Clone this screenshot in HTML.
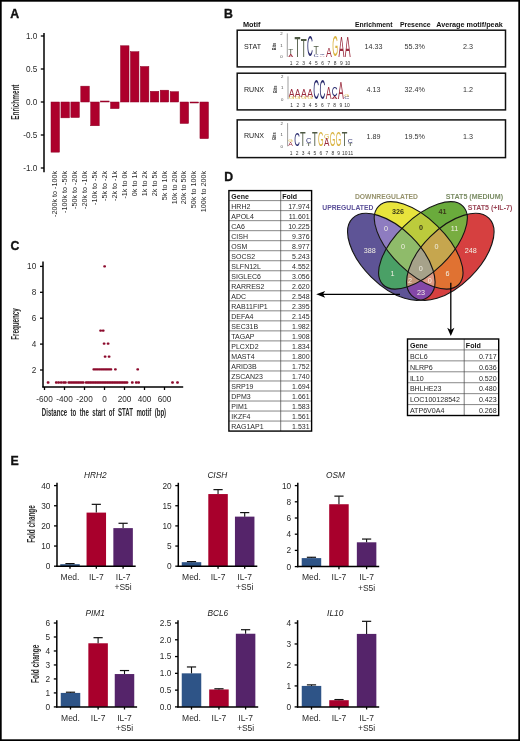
<!DOCTYPE html>
<html><head><meta charset="utf-8"><style>
html,body{margin:0;padding:0;background:#fff;}
svg{display:block;font-family:"Liberation Sans",sans-serif;filter:blur(0.35px);}
</style></head><body>
<svg width="520" height="741" viewBox="0 0 520 741">
<rect x="0" y="0" width="520" height="741" fill="#fff"/>
<text x="10.30" y="18.00" font-size="12.3" text-anchor="start" fill="#111" font-weight="bold" stroke="#111" stroke-width="0.35">A</text>
<line x1="44.00" y1="33.00" x2="44.00" y2="172.20" stroke="#000" stroke-width="1.5"/>
<line x1="40.80" y1="36.00" x2="44.00" y2="36.00" stroke="#000" stroke-width="1.3"/>
<text x="37.30" y="38.60" font-size="8.2" text-anchor="end" fill="#2a2a2a" >1.0</text>
<line x1="40.80" y1="69.00" x2="44.00" y2="69.00" stroke="#000" stroke-width="1.3"/>
<text x="37.30" y="71.60" font-size="8.2" text-anchor="end" fill="#2a2a2a" >0.5</text>
<line x1="40.80" y1="102.00" x2="44.00" y2="102.00" stroke="#000" stroke-width="1.3"/>
<text x="37.30" y="104.60" font-size="8.2" text-anchor="end" fill="#2a2a2a" >0.0</text>
<line x1="40.80" y1="135.00" x2="44.00" y2="135.00" stroke="#000" stroke-width="1.3"/>
<text x="37.30" y="137.60" font-size="8.2" text-anchor="end" fill="#2a2a2a" >-0.5</text>
<line x1="40.80" y1="168.00" x2="44.00" y2="168.00" stroke="#000" stroke-width="1.3"/>
<text x="37.30" y="170.60" font-size="8.2" text-anchor="end" fill="#2a2a2a" >-1.0</text>
<text x="18.90" y="102.10" font-size="10" text-anchor="middle" fill="#2a2a2a" textLength="35.2" lengthAdjust="spacingAndGlyphs" font-weight="bold" transform="rotate(-90 18.90 102.10)">Enrichment</text>
<rect x="51.00" y="102.00" width="8.50" height="50.16" fill="#ad002c" stroke="#8c0024" stroke-width="0.5"/>
<text x="0" y="0" font-size="7.2" text-anchor="end" fill="#2a2a2a" transform="translate(57.35 171.0) rotate(-90)">-200k to -100k</text>
<rect x="60.93" y="102.00" width="8.50" height="15.84" fill="#ad002c" stroke="#8c0024" stroke-width="0.5"/>
<text x="0" y="0" font-size="7.2" text-anchor="end" fill="#2a2a2a" transform="translate(67.28 171.0) rotate(-90)">-100k to -50k</text>
<rect x="70.86" y="102.00" width="8.50" height="15.51" fill="#ad002c" stroke="#8c0024" stroke-width="0.5"/>
<text x="0" y="0" font-size="7.2" text-anchor="end" fill="#2a2a2a" transform="translate(77.21 171.0) rotate(-90)">-50k to -20k</text>
<rect x="80.79" y="86.16" width="8.50" height="15.84" fill="#ad002c" stroke="#8c0024" stroke-width="0.5"/>
<text x="0" y="0" font-size="7.2" text-anchor="end" fill="#2a2a2a" transform="translate(87.14 171.0) rotate(-90)">-20k to -10k</text>
<rect x="90.72" y="102.00" width="8.50" height="23.76" fill="#ad002c" stroke="#8c0024" stroke-width="0.5"/>
<text x="0" y="0" font-size="7.2" text-anchor="end" fill="#2a2a2a" transform="translate(97.07 171.0) rotate(-90)">-10k to -5k</text>
<rect x="100.65" y="101.00" width="8.50" height="1.00" fill="#ad002c" stroke="#8c0024" stroke-width="0.5"/>
<text x="0" y="0" font-size="7.2" text-anchor="end" fill="#2a2a2a" transform="translate(107.00 171.0) rotate(-90)">-5k to -2k</text>
<rect x="110.58" y="102.00" width="8.50" height="6.60" fill="#ad002c" stroke="#8c0024" stroke-width="0.5"/>
<text x="0" y="0" font-size="7.2" text-anchor="end" fill="#2a2a2a" transform="translate(116.93 171.0) rotate(-90)">-2k to -1k</text>
<rect x="120.51" y="45.77" width="8.50" height="56.23" fill="#ad002c" stroke="#8c0024" stroke-width="0.5"/>
<text x="0" y="0" font-size="7.2" text-anchor="end" fill="#2a2a2a" transform="translate(126.86 171.0) rotate(-90)">-1k to 0k</text>
<rect x="130.44" y="51.71" width="8.50" height="50.29" fill="#ad002c" stroke="#8c0024" stroke-width="0.5"/>
<text x="0" y="0" font-size="7.2" text-anchor="end" fill="#2a2a2a" transform="translate(136.79 171.0) rotate(-90)">0k to 1k</text>
<rect x="140.37" y="66.49" width="8.50" height="35.51" fill="#ad002c" stroke="#8c0024" stroke-width="0.5"/>
<text x="0" y="0" font-size="7.2" text-anchor="end" fill="#2a2a2a" transform="translate(146.72 171.0) rotate(-90)">1k to 2k</text>
<rect x="150.30" y="91.31" width="8.50" height="10.69" fill="#ad002c" stroke="#8c0024" stroke-width="0.5"/>
<text x="0" y="0" font-size="7.2" text-anchor="end" fill="#2a2a2a" transform="translate(156.65 171.0) rotate(-90)">2k to 5k</text>
<rect x="160.23" y="90.19" width="8.50" height="11.81" fill="#ad002c" stroke="#8c0024" stroke-width="0.5"/>
<text x="0" y="0" font-size="7.2" text-anchor="end" fill="#2a2a2a" transform="translate(166.58 171.0) rotate(-90)">5k to 10k</text>
<rect x="170.16" y="91.70" width="8.50" height="10.30" fill="#ad002c" stroke="#8c0024" stroke-width="0.5"/>
<text x="0" y="0" font-size="7.2" text-anchor="end" fill="#2a2a2a" transform="translate(176.51 171.0) rotate(-90)">10k to 20k</text>
<rect x="180.09" y="102.00" width="8.50" height="21.45" fill="#ad002c" stroke="#8c0024" stroke-width="0.5"/>
<text x="0" y="0" font-size="7.2" text-anchor="end" fill="#2a2a2a" transform="translate(186.44 171.0) rotate(-90)">20k to 50k</text>
<rect x="190.02" y="102.00" width="8.50" height="1.00" fill="#ad002c" stroke="#8c0024" stroke-width="0.5"/>
<text x="0" y="0" font-size="7.2" text-anchor="end" fill="#2a2a2a" transform="translate(196.37 171.0) rotate(-90)">50k to 100k</text>
<rect x="199.95" y="102.00" width="8.50" height="36.63" fill="#ad002c" stroke="#8c0024" stroke-width="0.5"/>
<text x="0" y="0" font-size="7.2" text-anchor="end" fill="#2a2a2a" transform="translate(206.30 171.0) rotate(-90)">100k to 200k</text>
<text x="224.10" y="17.50" font-size="12.3" text-anchor="start" fill="#111" font-weight="bold" stroke="#111" stroke-width="0.35">B</text>
<text x="243.00" y="27.20" font-size="6.8" text-anchor="start" fill="#111" textLength="17.5" lengthAdjust="spacingAndGlyphs" font-weight="bold">Motif</text>
<text x="354.90" y="27.30" font-size="6.8" text-anchor="start" fill="#111" textLength="37.7" lengthAdjust="spacingAndGlyphs" font-weight="bold">Enrichment</text>
<text x="399.90" y="27.30" font-size="6.8" text-anchor="start" fill="#111" textLength="30.8" lengthAdjust="spacingAndGlyphs" font-weight="bold">Presence</text>
<text x="436.20" y="27.30" font-size="6.8" text-anchor="start" fill="#111" textLength="66.5" lengthAdjust="spacingAndGlyphs" font-weight="bold">Average motif/peak</text>
<rect x="237.2" y="30.2" width="268.3" height="36.70" fill="none" stroke="#111" stroke-width="1.5"/>
<text x="243.90" y="49.35" font-size="7.1" text-anchor="start" fill="#222" >STAT</text>
<text x="373.60" y="49.05" font-size="7.2" text-anchor="middle" fill="#333" >14.33</text>
<text x="414.80" y="49.05" font-size="7.2" text-anchor="middle" fill="#333" >55.3%</text>
<text x="468.00" y="49.05" font-size="7.2" text-anchor="middle" fill="#333" >2.3</text>
<rect x="237.2" y="73.2" width="268.3" height="36.70" fill="none" stroke="#111" stroke-width="1.5"/>
<text x="243.90" y="92.35" font-size="7.1" text-anchor="start" fill="#222" >RUNX</text>
<text x="373.60" y="92.05" font-size="7.2" text-anchor="middle" fill="#333" >4.13</text>
<text x="414.80" y="92.05" font-size="7.2" text-anchor="middle" fill="#333" >32.4%</text>
<text x="468.00" y="92.05" font-size="7.2" text-anchor="middle" fill="#333" >1.2</text>
<rect x="237.2" y="119.9" width="268.3" height="37.70" fill="none" stroke="#111" stroke-width="1.5"/>
<text x="243.90" y="138.35" font-size="7.1" text-anchor="start" fill="#222" >RUNX</text>
<text x="373.60" y="139.25" font-size="7.2" text-anchor="middle" fill="#333" >1.89</text>
<text x="414.80" y="139.25" font-size="7.2" text-anchor="middle" fill="#333" >19.5%</text>
<text x="468.00" y="139.25" font-size="7.2" text-anchor="middle" fill="#333" >1.3</text>
<line x1="287.30" y1="33.40" x2="287.30" y2="56.80" stroke="#777" stroke-width="0.7"/>
<text x="281.50" y="34.90" font-size="4.3" text-anchor="middle" fill="#444" >2</text>
<text x="281.50" y="46.60" font-size="4.3" text-anchor="middle" fill="#444" >1</text>
<text x="281.50" y="58.30" font-size="4.3" text-anchor="middle" fill="#444" >0</text>
<text x="0" y="0" font-size="5.8" font-weight="bold" text-anchor="middle" fill="#333" textLength="7.4" lengthAdjust="spacingAndGlyphs" transform="translate(276.00 46.50) rotate(-90)">Bits</text>
<text font-size="100" fill="#4f5a44" transform="translate(288.30 48.70) scale(0.0820 0.0710) translate(0 69)">T</text>
<text font-size="100" fill="#9a2a3c" transform="translate(288.30 53.60) scale(0.0746 0.0435) translate(0 69)">A</text>
<text font-size="100" fill="#4f5a44" transform="translate(294.57 35.90) scale(0.0967 0.3000) translate(0 69)">T</text>
<text font-size="100" fill="#4f5a44" transform="translate(300.84 38.90) scale(0.0967 0.2565) translate(0 69)">T</text>
<text font-size="100" fill="#2a2c6e" transform="translate(307.11 35.30) scale(0.0819 0.3000) translate(0 70)">C</text>
<text font-size="100" fill="#4f5a44" transform="translate(313.38 46.00) scale(0.0869 0.1087) translate(0 69)">T</text>
<text font-size="100" fill="#2a2c6e" transform="translate(313.38 53.50) scale(0.0736 0.0437) translate(0 70)">C</text>
<text font-size="100" fill="#2a2c6e" transform="translate(319.65 53.50) scale(0.0694 0.0211) translate(0 70)">C</text>
<text font-size="100" fill="#9a2a3c" transform="translate(319.65 55.00) scale(0.0746 0.0232) translate(0 69)">A</text>
<text font-size="100" fill="#9a2a3c" transform="translate(325.92 47.60) scale(0.0881 0.1304) translate(0 69)">A</text>
<text font-size="100" fill="#d9b23e" transform="translate(332.19 35.80) scale(0.0756 0.2930) translate(0 70)">G</text>
<text font-size="100" fill="#9a2a3c" transform="translate(338.46 35.80) scale(0.0881 0.3014) translate(0 69)">A</text>
<text font-size="100" fill="#9a2a3c" transform="translate(344.73 35.80) scale(0.0881 0.3014) translate(0 69)">A</text>
<text x="291.20" y="65.00" font-size="4.9" text-anchor="middle" fill="#333" >1</text>
<text x="297.47" y="65.00" font-size="4.9" text-anchor="middle" fill="#333" >2</text>
<text x="303.74" y="65.00" font-size="4.9" text-anchor="middle" fill="#333" >3</text>
<text x="310.01" y="65.00" font-size="4.9" text-anchor="middle" fill="#333" >4</text>
<text x="316.28" y="65.00" font-size="4.9" text-anchor="middle" fill="#333" >5</text>
<text x="322.55" y="65.00" font-size="4.9" text-anchor="middle" fill="#333" >6</text>
<text x="328.82" y="65.00" font-size="4.9" text-anchor="middle" fill="#333" >7</text>
<text x="335.09" y="65.00" font-size="4.9" text-anchor="middle" fill="#333" >8</text>
<text x="341.36" y="65.00" font-size="4.9" text-anchor="middle" fill="#333" >9</text>
<text x="347.63" y="65.00" font-size="4.9" text-anchor="middle" fill="#333" >10</text>
<line x1="288.00" y1="76.40" x2="288.00" y2="99.20" stroke="#777" stroke-width="0.7"/>
<text x="282.20" y="77.90" font-size="4.3" text-anchor="middle" fill="#444" >2</text>
<text x="282.20" y="89.30" font-size="4.3" text-anchor="middle" fill="#444" >1</text>
<text x="282.20" y="100.70" font-size="4.3" text-anchor="middle" fill="#444" >0</text>
<text x="0" y="0" font-size="5.8" font-weight="bold" text-anchor="middle" fill="#333" textLength="7.4" lengthAdjust="spacingAndGlyphs" transform="translate(276.70 89.20) rotate(-90)">Bits</text>
<text font-size="100" fill="#9a2a3c" transform="translate(288.70 89.50) scale(0.0866 0.1029) translate(0 69)">A</text>
<text font-size="100" fill="#d9b23e" transform="translate(288.70 96.60) scale(0.0744 0.0324) translate(0 70)">G</text>
<text font-size="100" fill="#9a2a3c" transform="translate(294.86 89.50) scale(0.0866 0.1029) translate(0 69)">A</text>
<text font-size="100" fill="#d9b23e" transform="translate(294.86 96.60) scale(0.0744 0.0324) translate(0 70)">G</text>
<text font-size="100" fill="#9a2a3c" transform="translate(301.02 89.50) scale(0.0866 0.1058) translate(0 69)">A</text>
<text font-size="100" fill="#d9b23e" transform="translate(301.02 96.80) scale(0.0744 0.0296) translate(0 70)">G</text>
<text font-size="100" fill="#9a2a3c" transform="translate(307.18 89.80) scale(0.0866 0.1043) translate(0 69)">A</text>
<text font-size="100" fill="#d9b23e" transform="translate(307.18 97.00) scale(0.0744 0.0268) translate(0 70)">G</text>
<text font-size="100" fill="#2a2c6e" transform="translate(313.34 79.40) scale(0.0806 0.2746) translate(0 70)">C</text>
<text font-size="100" fill="#2a2c6e" transform="translate(319.50 79.40) scale(0.0806 0.2746) translate(0 70)">C</text>
<text font-size="100" fill="#9a2a3c" transform="translate(325.66 87.90) scale(0.0866 0.1594) translate(0 69)">A</text>
<text font-size="100" fill="#2a2c6e" transform="translate(331.82 87.50) scale(0.0806 0.1268) translate(0 70)">C</text>
<text font-size="100" fill="#9a2a3c" transform="translate(331.82 96.50) scale(0.0866 0.0348) translate(0 69)">A</text>
<text font-size="100" fill="#9a2a3c" transform="translate(337.98 82.10) scale(0.0866 0.2435) translate(0 69)">A</text>
<text font-size="100" fill="#d9b23e" transform="translate(344.14 95.00) scale(0.0641 0.0282) translate(0 70)">G</text>
<text font-size="100" fill="#2a2c6e" transform="translate(344.14 97.00) scale(0.0694 0.0268) translate(0 70)">C</text>
<text x="291.60" y="106.80" font-size="4.9" text-anchor="middle" fill="#333" >1</text>
<text x="297.76" y="106.80" font-size="4.9" text-anchor="middle" fill="#333" >2</text>
<text x="303.92" y="106.80" font-size="4.9" text-anchor="middle" fill="#333" >3</text>
<text x="310.08" y="106.80" font-size="4.9" text-anchor="middle" fill="#333" >4</text>
<text x="316.24" y="106.80" font-size="4.9" text-anchor="middle" fill="#333" >5</text>
<text x="322.40" y="106.80" font-size="4.9" text-anchor="middle" fill="#333" >6</text>
<text x="328.56" y="106.80" font-size="4.9" text-anchor="middle" fill="#333" >7</text>
<text x="334.72" y="106.80" font-size="4.9" text-anchor="middle" fill="#333" >8</text>
<text x="340.88" y="106.80" font-size="4.9" text-anchor="middle" fill="#333" >9</text>
<text x="347.04" y="106.80" font-size="4.9" text-anchor="middle" fill="#333" >10</text>
<line x1="287.60" y1="123.10" x2="287.60" y2="146.30" stroke="#777" stroke-width="0.7"/>
<text x="281.80" y="124.60" font-size="4.3" text-anchor="middle" fill="#444" >2</text>
<text x="281.80" y="136.20" font-size="4.3" text-anchor="middle" fill="#444" >1</text>
<text x="281.80" y="147.80" font-size="4.3" text-anchor="middle" fill="#444" >0</text>
<text x="0" y="0" font-size="5.8" font-weight="bold" text-anchor="middle" fill="#333" textLength="7.4" lengthAdjust="spacingAndGlyphs" transform="translate(276.30 136.10) rotate(-90)">Bits</text>
<text font-size="100" fill="#d9b23e" transform="translate(288.20 139.00) scale(0.0590 0.0423) translate(0 70)">G</text>
<text font-size="100" fill="#9a2a3c" transform="translate(288.20 142.00) scale(0.0687 0.0580) translate(0 69)">A</text>
<text font-size="100" fill="#2a2c6e" transform="translate(294.15 132.50) scale(0.0778 0.1901) translate(0 70)">C</text>
<text font-size="100" fill="#4f5a44" transform="translate(300.10 132.50) scale(0.0918 0.1957) translate(0 69)">T</text>
<text font-size="100" fill="#2a2c6e" transform="translate(306.05 139.00) scale(0.0750 0.0634) translate(0 70)">C</text>
<text font-size="100" fill="#4f5a44" transform="translate(306.05 143.50) scale(0.0885 0.0362) translate(0 69)">T</text>
<text font-size="100" fill="#4f5a44" transform="translate(312.00 132.50) scale(0.0918 0.1957) translate(0 69)">T</text>
<text font-size="100" fill="#d9b23e" transform="translate(317.95 131.80) scale(0.0718 0.2000) translate(0 70)">G</text>
<text font-size="100" fill="#d9b23e" transform="translate(323.90 134.00) scale(0.0692 0.0704) translate(0 70)">G</text>
<text font-size="100" fill="#9a2a3c" transform="translate(323.90 139.00) scale(0.0806 0.1014) translate(0 69)">A</text>
<text font-size="100" fill="#d9b23e" transform="translate(329.85 131.80) scale(0.0718 0.2000) translate(0 70)">G</text>
<text font-size="100" fill="#d9b23e" transform="translate(335.80 131.80) scale(0.0718 0.2000) translate(0 70)">G</text>
<text font-size="100" fill="#4f5a44" transform="translate(341.75 132.50) scale(0.0918 0.1957) translate(0 69)">T</text>
<text font-size="100" fill="#2a2c6e" transform="translate(347.70 139.50) scale(0.0694 0.0493) translate(0 70)">C</text>
<text font-size="100" fill="#4f5a44" transform="translate(347.70 143.00) scale(0.0820 0.0435) translate(0 69)">T</text>
<text x="291.10" y="154.60" font-size="4.9" text-anchor="middle" fill="#333" >1</text>
<text x="297.05" y="154.60" font-size="4.9" text-anchor="middle" fill="#333" >2</text>
<text x="303.00" y="154.60" font-size="4.9" text-anchor="middle" fill="#333" >3</text>
<text x="308.95" y="154.60" font-size="4.9" text-anchor="middle" fill="#333" >4</text>
<text x="314.90" y="154.60" font-size="4.9" text-anchor="middle" fill="#333" >5</text>
<text x="320.85" y="154.60" font-size="4.9" text-anchor="middle" fill="#333" >6</text>
<text x="326.80" y="154.60" font-size="4.9" text-anchor="middle" fill="#333" >7</text>
<text x="332.75" y="154.60" font-size="4.9" text-anchor="middle" fill="#333" >8</text>
<text x="338.70" y="154.60" font-size="4.9" text-anchor="middle" fill="#333" >9</text>
<text x="344.65" y="154.60" font-size="4.9" text-anchor="middle" fill="#333" >10</text>
<text x="350.60" y="154.60" font-size="4.9" text-anchor="middle" fill="#333" >11</text>
<text x="10.50" y="250.00" font-size="12.3" text-anchor="start" fill="#111" font-weight="bold" stroke="#111" stroke-width="0.35">C</text>
<line x1="43.00" y1="261.60" x2="43.00" y2="387.60" stroke="#000" stroke-width="1.5"/>
<line x1="42.40" y1="387.00" x2="183.20" y2="387.00" stroke="#000" stroke-width="1.5"/>
<line x1="40.00" y1="370.00" x2="43.00" y2="370.00" stroke="#000" stroke-width="1.3"/>
<text x="36.20" y="372.90" font-size="8.2" text-anchor="end" fill="#2a2a2a" >2</text>
<line x1="40.00" y1="344.10" x2="43.00" y2="344.10" stroke="#000" stroke-width="1.3"/>
<text x="36.20" y="347.00" font-size="8.2" text-anchor="end" fill="#2a2a2a" >4</text>
<line x1="40.00" y1="318.20" x2="43.00" y2="318.20" stroke="#000" stroke-width="1.3"/>
<text x="36.20" y="321.10" font-size="8.2" text-anchor="end" fill="#2a2a2a" >6</text>
<line x1="40.00" y1="292.30" x2="43.00" y2="292.30" stroke="#000" stroke-width="1.3"/>
<text x="36.20" y="295.20" font-size="8.2" text-anchor="end" fill="#2a2a2a" >8</text>
<line x1="40.00" y1="266.40" x2="43.00" y2="266.40" stroke="#000" stroke-width="1.3"/>
<text x="36.20" y="269.30" font-size="8.2" text-anchor="end" fill="#2a2a2a" >10</text>
<line x1="44.50" y1="387.00" x2="44.50" y2="390.00" stroke="#000" stroke-width="1.3"/>
<text x="44.50" y="402.20" font-size="8.2" text-anchor="middle" fill="#2a2a2a" >-600</text>
<line x1="64.50" y1="387.00" x2="64.50" y2="390.00" stroke="#000" stroke-width="1.3"/>
<text x="64.50" y="402.20" font-size="8.2" text-anchor="middle" fill="#2a2a2a" >-400</text>
<line x1="84.50" y1="387.00" x2="84.50" y2="390.00" stroke="#000" stroke-width="1.3"/>
<text x="84.50" y="402.20" font-size="8.2" text-anchor="middle" fill="#2a2a2a" >-200</text>
<line x1="104.50" y1="387.00" x2="104.50" y2="390.00" stroke="#000" stroke-width="1.3"/>
<text x="104.50" y="402.20" font-size="8.2" text-anchor="middle" fill="#2a2a2a" >0</text>
<line x1="124.50" y1="387.00" x2="124.50" y2="390.00" stroke="#000" stroke-width="1.3"/>
<text x="124.50" y="402.20" font-size="8.2" text-anchor="middle" fill="#2a2a2a" >200</text>
<line x1="144.50" y1="387.00" x2="144.50" y2="390.00" stroke="#000" stroke-width="1.3"/>
<text x="144.50" y="402.20" font-size="8.2" text-anchor="middle" fill="#2a2a2a" >400</text>
<line x1="164.50" y1="387.00" x2="164.50" y2="390.00" stroke="#000" stroke-width="1.3"/>
<text x="164.50" y="402.20" font-size="8.2" text-anchor="middle" fill="#2a2a2a" >600</text>
<text x="18.70" y="324.00" font-size="10" text-anchor="middle" fill="#2a2a2a" textLength="31.7" lengthAdjust="spacingAndGlyphs" font-weight="bold" transform="rotate(-90 18.70 324.00)">Frequency</text>
<text x="0" y="0" font-size="10.6" font-weight="bold" fill="#2a2a2a" word-spacing="3.0" transform="translate(41.8 415.8) scale(0.575 1)">Distance to the start of STAT motif (bp)</text>
<rect x="103.20" y="265.25" width="2.8" height="2.3" rx="1.0" fill="#8c0a2c"/>
<rect x="99.20" y="329.45" width="2.8" height="2.3" rx="1.0" fill="#8c0a2c"/>
<rect x="101.80" y="329.45" width="2.8" height="2.3" rx="1.0" fill="#8c0a2c"/>
<rect x="102.70" y="342.55" width="2.8" height="2.3" rx="1.0" fill="#8c0a2c"/>
<rect x="106.70" y="342.55" width="2.8" height="2.3" rx="1.0" fill="#8c0a2c"/>
<rect x="103.70" y="355.55" width="2.8" height="2.3" rx="1.0" fill="#8c0a2c"/>
<rect x="107.70" y="355.55" width="2.8" height="2.3" rx="1.0" fill="#8c0a2c"/>
<rect x="92.40" y="368.15" width="2.8" height="2.3" rx="1.0" fill="#8c0a2c"/>
<rect x="94.30" y="368.15" width="2.8" height="2.3" rx="1.0" fill="#8c0a2c"/>
<rect x="96.20" y="368.15" width="2.8" height="2.3" rx="1.0" fill="#8c0a2c"/>
<rect x="98.10" y="368.15" width="2.8" height="2.3" rx="1.0" fill="#8c0a2c"/>
<rect x="100.00" y="368.15" width="2.8" height="2.3" rx="1.0" fill="#8c0a2c"/>
<rect x="101.90" y="368.15" width="2.8" height="2.3" rx="1.0" fill="#8c0a2c"/>
<rect x="103.80" y="368.15" width="2.8" height="2.3" rx="1.0" fill="#8c0a2c"/>
<rect x="105.70" y="368.15" width="2.8" height="2.3" rx="1.0" fill="#8c0a2c"/>
<rect x="107.60" y="368.15" width="2.8" height="2.3" rx="1.0" fill="#8c0a2c"/>
<rect x="109.50" y="368.15" width="2.8" height="2.3" rx="1.0" fill="#8c0a2c"/>
<rect x="114.00" y="368.15" width="2.8" height="2.3" rx="1.0" fill="#8c0a2c"/>
<rect x="136.30" y="368.15" width="2.8" height="2.3" rx="1.0" fill="#8c0a2c"/>
<rect x="46.70" y="381.35" width="2.8" height="2.3" rx="1.0" fill="#8c0a2c"/>
<rect x="54.90" y="381.35" width="2.8" height="2.3" rx="1.0" fill="#8c0a2c"/>
<rect x="57.20" y="381.35" width="2.8" height="2.3" rx="1.0" fill="#8c0a2c"/>
<rect x="59.80" y="381.35" width="2.8" height="2.3" rx="1.0" fill="#8c0a2c"/>
<rect x="62.20" y="381.35" width="2.8" height="2.3" rx="1.0" fill="#8c0a2c"/>
<rect x="64.00" y="381.35" width="2.8" height="2.3" rx="1.0" fill="#8c0a2c"/>
<rect x="67.40" y="381.35" width="2.8" height="2.3" rx="1.0" fill="#8c0a2c"/>
<rect x="69.20" y="381.35" width="2.8" height="2.3" rx="1.0" fill="#8c0a2c"/>
<rect x="71.00" y="381.35" width="2.8" height="2.3" rx="1.0" fill="#8c0a2c"/>
<rect x="72.80" y="381.35" width="2.8" height="2.3" rx="1.0" fill="#8c0a2c"/>
<rect x="74.60" y="381.35" width="2.8" height="2.3" rx="1.0" fill="#8c0a2c"/>
<rect x="76.40" y="381.35" width="2.8" height="2.3" rx="1.0" fill="#8c0a2c"/>
<rect x="78.20" y="381.35" width="2.8" height="2.3" rx="1.0" fill="#8c0a2c"/>
<rect x="80.00" y="381.35" width="2.8" height="2.3" rx="1.0" fill="#8c0a2c"/>
<rect x="81.80" y="381.35" width="2.8" height="2.3" rx="1.0" fill="#8c0a2c"/>
<rect x="84.80" y="381.35" width="2.8" height="2.3" rx="1.0" fill="#8c0a2c"/>
<rect x="86.50" y="381.35" width="2.8" height="2.3" rx="1.0" fill="#8c0a2c"/>
<rect x="88.20" y="381.35" width="2.8" height="2.3" rx="1.0" fill="#8c0a2c"/>
<rect x="89.90" y="381.35" width="2.8" height="2.3" rx="1.0" fill="#8c0a2c"/>
<rect x="91.60" y="381.35" width="2.8" height="2.3" rx="1.0" fill="#8c0a2c"/>
<rect x="93.30" y="381.35" width="2.8" height="2.3" rx="1.0" fill="#8c0a2c"/>
<rect x="95.00" y="381.35" width="2.8" height="2.3" rx="1.0" fill="#8c0a2c"/>
<rect x="96.70" y="381.35" width="2.8" height="2.3" rx="1.0" fill="#8c0a2c"/>
<rect x="98.40" y="381.35" width="2.8" height="2.3" rx="1.0" fill="#8c0a2c"/>
<rect x="100.10" y="381.35" width="2.8" height="2.3" rx="1.0" fill="#8c0a2c"/>
<rect x="101.80" y="381.35" width="2.8" height="2.3" rx="1.0" fill="#8c0a2c"/>
<rect x="103.50" y="381.35" width="2.8" height="2.3" rx="1.0" fill="#8c0a2c"/>
<rect x="105.20" y="381.35" width="2.8" height="2.3" rx="1.0" fill="#8c0a2c"/>
<rect x="106.90" y="381.35" width="2.8" height="2.3" rx="1.0" fill="#8c0a2c"/>
<rect x="108.60" y="381.35" width="2.8" height="2.3" rx="1.0" fill="#8c0a2c"/>
<rect x="110.30" y="381.35" width="2.8" height="2.3" rx="1.0" fill="#8c0a2c"/>
<rect x="112.00" y="381.35" width="2.8" height="2.3" rx="1.0" fill="#8c0a2c"/>
<rect x="113.70" y="381.35" width="2.8" height="2.3" rx="1.0" fill="#8c0a2c"/>
<rect x="115.40" y="381.35" width="2.8" height="2.3" rx="1.0" fill="#8c0a2c"/>
<rect x="117.10" y="381.35" width="2.8" height="2.3" rx="1.0" fill="#8c0a2c"/>
<rect x="118.80" y="381.35" width="2.8" height="2.3" rx="1.0" fill="#8c0a2c"/>
<rect x="120.50" y="381.35" width="2.8" height="2.3" rx="1.0" fill="#8c0a2c"/>
<rect x="122.20" y="381.35" width="2.8" height="2.3" rx="1.0" fill="#8c0a2c"/>
<rect x="123.90" y="381.35" width="2.8" height="2.3" rx="1.0" fill="#8c0a2c"/>
<rect x="125.60" y="381.35" width="2.8" height="2.3" rx="1.0" fill="#8c0a2c"/>
<rect x="130.90" y="381.35" width="2.8" height="2.3" rx="1.0" fill="#8c0a2c"/>
<rect x="134.90" y="381.35" width="2.8" height="2.3" rx="1.0" fill="#8c0a2c"/>
<rect x="137.20" y="381.35" width="2.8" height="2.3" rx="1.0" fill="#8c0a2c"/>
<rect x="171.10" y="381.35" width="2.8" height="2.3" rx="1.0" fill="#8c0a2c"/>
<rect x="176.10" y="381.35" width="2.8" height="2.3" rx="1.0" fill="#8c0a2c"/>
<text x="224.30" y="180.50" font-size="12.3" text-anchor="start" fill="#111" font-weight="bold" stroke="#111" stroke-width="0.35">D</text>
<line x1="228.90" y1="200.62" x2="311.60" y2="200.62" stroke="#555" stroke-width="0.7"/>
<line x1="228.90" y1="210.64" x2="311.60" y2="210.64" stroke="#555" stroke-width="0.7"/>
<line x1="228.90" y1="220.66" x2="311.60" y2="220.66" stroke="#555" stroke-width="0.7"/>
<line x1="228.90" y1="230.68" x2="311.60" y2="230.68" stroke="#555" stroke-width="0.7"/>
<line x1="228.90" y1="240.70" x2="311.60" y2="240.70" stroke="#555" stroke-width="0.7"/>
<line x1="228.90" y1="250.72" x2="311.60" y2="250.72" stroke="#555" stroke-width="0.7"/>
<line x1="228.90" y1="260.74" x2="311.60" y2="260.74" stroke="#555" stroke-width="0.7"/>
<line x1="228.90" y1="270.76" x2="311.60" y2="270.76" stroke="#555" stroke-width="0.7"/>
<line x1="228.90" y1="280.78" x2="311.60" y2="280.78" stroke="#555" stroke-width="0.7"/>
<line x1="228.90" y1="290.80" x2="311.60" y2="290.80" stroke="#555" stroke-width="0.7"/>
<line x1="228.90" y1="300.82" x2="311.60" y2="300.82" stroke="#555" stroke-width="0.7"/>
<line x1="228.90" y1="310.84" x2="311.60" y2="310.84" stroke="#555" stroke-width="0.7"/>
<line x1="228.90" y1="320.86" x2="311.60" y2="320.86" stroke="#555" stroke-width="0.7"/>
<line x1="228.90" y1="330.88" x2="311.60" y2="330.88" stroke="#555" stroke-width="0.7"/>
<line x1="228.90" y1="340.90" x2="311.60" y2="340.90" stroke="#555" stroke-width="0.7"/>
<line x1="228.90" y1="350.92" x2="311.60" y2="350.92" stroke="#555" stroke-width="0.7"/>
<line x1="228.90" y1="360.94" x2="311.60" y2="360.94" stroke="#555" stroke-width="0.7"/>
<line x1="228.90" y1="370.96" x2="311.60" y2="370.96" stroke="#555" stroke-width="0.7"/>
<line x1="228.90" y1="380.98" x2="311.60" y2="380.98" stroke="#555" stroke-width="0.7"/>
<line x1="228.90" y1="391.00" x2="311.60" y2="391.00" stroke="#555" stroke-width="0.7"/>
<line x1="228.90" y1="401.02" x2="311.60" y2="401.02" stroke="#555" stroke-width="0.7"/>
<line x1="228.90" y1="411.04" x2="311.60" y2="411.04" stroke="#555" stroke-width="0.7"/>
<line x1="228.90" y1="421.06" x2="311.60" y2="421.06" stroke="#555" stroke-width="0.7"/>
<line x1="280.70" y1="190.60" x2="280.70" y2="431.08" stroke="#444" stroke-width="0.7"/>
<rect x="228.90" y="190.60" width="82.70" height="240.48" fill="none" stroke="#000" stroke-width="1.4"/>
<text x="231.30" y="199.01" font-size="7.0" text-anchor="start" fill="#111" font-weight="bold" >Gene</text>
<text x="282.30" y="199.01" font-size="7.0" text-anchor="start" fill="#111" font-weight="bold" >Fold</text>
<text x="231.30" y="208.93" font-size="7.0" text-anchor="start" fill="#2a2a2a" >HRH2</text>
<text x="309.60" y="208.93" font-size="7.0" text-anchor="end" fill="#2a2a2a" >17.974</text>
<text x="231.30" y="218.95" font-size="7.0" text-anchor="start" fill="#2a2a2a" >APOL4</text>
<text x="309.60" y="218.95" font-size="7.0" text-anchor="end" fill="#2a2a2a" >11.601</text>
<text x="231.30" y="228.97" font-size="7.0" text-anchor="start" fill="#2a2a2a" >CA6</text>
<text x="309.60" y="228.97" font-size="7.0" text-anchor="end" fill="#2a2a2a" >10.225</text>
<text x="231.30" y="238.99" font-size="7.0" text-anchor="start" fill="#2a2a2a" >CISH</text>
<text x="309.60" y="238.99" font-size="7.0" text-anchor="end" fill="#2a2a2a" >9.376</text>
<text x="231.30" y="249.01" font-size="7.0" text-anchor="start" fill="#2a2a2a" >OSM</text>
<text x="309.60" y="249.01" font-size="7.0" text-anchor="end" fill="#2a2a2a" >8.977</text>
<text x="231.30" y="259.03" font-size="7.0" text-anchor="start" fill="#2a2a2a" >SOCS2</text>
<text x="309.60" y="259.03" font-size="7.0" text-anchor="end" fill="#2a2a2a" >5.243</text>
<text x="231.30" y="269.05" font-size="7.0" text-anchor="start" fill="#2a2a2a" >SLFN12L</text>
<text x="309.60" y="269.05" font-size="7.0" text-anchor="end" fill="#2a2a2a" >4.552</text>
<text x="231.30" y="279.07" font-size="7.0" text-anchor="start" fill="#2a2a2a" >SIGLEC6</text>
<text x="309.60" y="279.07" font-size="7.0" text-anchor="end" fill="#2a2a2a" >3.056</text>
<text x="231.30" y="289.09" font-size="7.0" text-anchor="start" fill="#2a2a2a" >RARRES2</text>
<text x="309.60" y="289.09" font-size="7.0" text-anchor="end" fill="#2a2a2a" >2.620</text>
<text x="231.30" y="299.11" font-size="7.0" text-anchor="start" fill="#2a2a2a" >ADC</text>
<text x="309.60" y="299.11" font-size="7.0" text-anchor="end" fill="#2a2a2a" >2.548</text>
<text x="231.30" y="309.13" font-size="7.0" text-anchor="start" fill="#2a2a2a" >RAB11FIP1</text>
<text x="309.60" y="309.13" font-size="7.0" text-anchor="end" fill="#2a2a2a" >2.395</text>
<text x="231.30" y="319.15" font-size="7.0" text-anchor="start" fill="#2a2a2a" >DEFA4</text>
<text x="309.60" y="319.15" font-size="7.0" text-anchor="end" fill="#2a2a2a" >2.145</text>
<text x="231.30" y="329.17" font-size="7.0" text-anchor="start" fill="#2a2a2a" >SEC31B</text>
<text x="309.60" y="329.17" font-size="7.0" text-anchor="end" fill="#2a2a2a" >1.982</text>
<text x="231.30" y="339.19" font-size="7.0" text-anchor="start" fill="#2a2a2a" >TAGAP</text>
<text x="309.60" y="339.19" font-size="7.0" text-anchor="end" fill="#2a2a2a" >1.908</text>
<text x="231.30" y="349.21" font-size="7.0" text-anchor="start" fill="#2a2a2a" >PLCXD2</text>
<text x="309.60" y="349.21" font-size="7.0" text-anchor="end" fill="#2a2a2a" >1.834</text>
<text x="231.30" y="359.23" font-size="7.0" text-anchor="start" fill="#2a2a2a" >MAST4</text>
<text x="309.60" y="359.23" font-size="7.0" text-anchor="end" fill="#2a2a2a" >1.800</text>
<text x="231.30" y="369.25" font-size="7.0" text-anchor="start" fill="#2a2a2a" >ARID3B</text>
<text x="309.60" y="369.25" font-size="7.0" text-anchor="end" fill="#2a2a2a" >1.752</text>
<text x="231.30" y="379.27" font-size="7.0" text-anchor="start" fill="#2a2a2a" >ZSCAN23</text>
<text x="309.60" y="379.27" font-size="7.0" text-anchor="end" fill="#2a2a2a" >1.740</text>
<text x="231.30" y="389.29" font-size="7.0" text-anchor="start" fill="#2a2a2a" >SRP19</text>
<text x="309.60" y="389.29" font-size="7.0" text-anchor="end" fill="#2a2a2a" >1.694</text>
<text x="231.30" y="399.31" font-size="7.0" text-anchor="start" fill="#2a2a2a" >DPM3</text>
<text x="309.60" y="399.31" font-size="7.0" text-anchor="end" fill="#2a2a2a" >1.661</text>
<text x="231.30" y="409.33" font-size="7.0" text-anchor="start" fill="#2a2a2a" >PIM1</text>
<text x="309.60" y="409.33" font-size="7.0" text-anchor="end" fill="#2a2a2a" >1.583</text>
<text x="231.30" y="419.35" font-size="7.0" text-anchor="start" fill="#2a2a2a" >IKZF4</text>
<text x="309.60" y="419.35" font-size="7.0" text-anchor="end" fill="#2a2a2a" >1.561</text>
<text x="231.30" y="429.37" font-size="7.0" text-anchor="start" fill="#2a2a2a" >RAG1AP1</text>
<text x="309.60" y="429.37" font-size="7.0" text-anchor="end" fill="#2a2a2a" >1.531</text>
<line x1="407.50" y1="349.93" x2="498.70" y2="349.93" stroke="#555" stroke-width="0.7"/>
<line x1="407.50" y1="360.86" x2="498.70" y2="360.86" stroke="#555" stroke-width="0.7"/>
<line x1="407.50" y1="371.79" x2="498.70" y2="371.79" stroke="#555" stroke-width="0.7"/>
<line x1="407.50" y1="382.72" x2="498.70" y2="382.72" stroke="#555" stroke-width="0.7"/>
<line x1="407.50" y1="393.65" x2="498.70" y2="393.65" stroke="#555" stroke-width="0.7"/>
<line x1="407.50" y1="404.58" x2="498.70" y2="404.58" stroke="#555" stroke-width="0.7"/>
<line x1="464.20" y1="339.00" x2="464.20" y2="415.51" stroke="#444" stroke-width="0.7"/>
<rect x="407.50" y="339.00" width="91.20" height="76.51" fill="none" stroke="#000" stroke-width="1.4"/>
<text x="409.90" y="347.86" font-size="7.1" text-anchor="start" fill="#111" font-weight="bold" >Gene</text>
<text x="465.80" y="347.86" font-size="7.1" text-anchor="start" fill="#111" font-weight="bold" >Fold</text>
<text x="409.90" y="358.69" font-size="7.1" text-anchor="start" fill="#2a2a2a" >BCL6</text>
<text x="496.70" y="358.69" font-size="7.1" text-anchor="end" fill="#2a2a2a" >0.717</text>
<text x="409.90" y="369.62" font-size="7.1" text-anchor="start" fill="#2a2a2a" >NLRP6</text>
<text x="496.70" y="369.62" font-size="7.1" text-anchor="end" fill="#2a2a2a" >0.636</text>
<text x="409.90" y="380.56" font-size="7.1" text-anchor="start" fill="#2a2a2a" >IL10</text>
<text x="496.70" y="380.56" font-size="7.1" text-anchor="end" fill="#2a2a2a" >0.520</text>
<text x="409.90" y="391.49" font-size="7.1" text-anchor="start" fill="#2a2a2a" >BHLHE23</text>
<text x="496.70" y="391.49" font-size="7.1" text-anchor="end" fill="#2a2a2a" >0.480</text>
<text x="409.90" y="402.41" font-size="7.1" text-anchor="start" fill="#2a2a2a" >LOC100128542</text>
<text x="496.70" y="402.41" font-size="7.1" text-anchor="end" fill="#2a2a2a" >0.423</text>
<text x="409.90" y="413.34" font-size="7.1" text-anchor="start" fill="#2a2a2a" >ATP6V0A4</text>
<text x="496.70" y="413.34" font-size="7.1" text-anchor="end" fill="#2a2a2a" >0.268</text>
<defs>
<clipPath id="ve0"><ellipse cx="391.31" cy="256.84" rx="54.62" ry="28.47" transform="rotate(44.73 391.31 256.84)" /></clipPath>
<clipPath id="ve1"><ellipse cx="418.63" cy="245.39" rx="56.02" ry="26.93" transform="rotate(44.27 418.63 245.39)" /></clipPath>
<clipPath id="ve2"><ellipse cx="422.97" cy="245.39" rx="56.02" ry="26.93" transform="rotate(-44.27 422.97 245.39)" /></clipPath>
<clipPath id="ve3"><ellipse cx="450.29" cy="256.84" rx="54.62" ry="28.47" transform="rotate(-44.73 450.29 256.84)" /></clipPath>
</defs>
<ellipse cx="391.31" cy="256.84" rx="54.62" ry="28.47" transform="rotate(44.73 391.31 256.84)" fill="#5e5496"/>
<ellipse cx="418.63" cy="245.39" rx="56.02" ry="26.93" transform="rotate(44.27 418.63 245.39)" fill="#e8e43c"/>
<ellipse cx="422.97" cy="245.39" rx="56.02" ry="26.93" transform="rotate(-44.27 422.97 245.39)" fill="#6aab3c"/>
<ellipse cx="450.29" cy="256.84" rx="54.62" ry="28.47" transform="rotate(-44.73 450.29 256.84)" fill="#d64040"/>
<g clip-path="url(#ve0)"><ellipse cx="418.63" cy="245.39" rx="56.02" ry="26.93" transform="rotate(44.27 418.63 245.39)" fill="#8e7cc0"/></g>
<g clip-path="url(#ve0)"><ellipse cx="422.97" cy="245.39" rx="56.02" ry="26.93" transform="rotate(-44.27 422.97 245.39)" fill="#4aa066"/></g>
<g clip-path="url(#ve0)"><ellipse cx="450.29" cy="256.84" rx="54.62" ry="28.47" transform="rotate(-44.73 450.29 256.84)" fill="#8448a8"/></g>
<g clip-path="url(#ve1)"><ellipse cx="422.97" cy="245.39" rx="56.02" ry="26.93" transform="rotate(-44.27 422.97 245.39)" fill="#bccb3c"/></g>
<g clip-path="url(#ve1)"><ellipse cx="450.29" cy="256.84" rx="54.62" ry="28.47" transform="rotate(-44.73 450.29 256.84)" fill="#e07232"/></g>
<g clip-path="url(#ve2)"><ellipse cx="450.29" cy="256.84" rx="54.62" ry="28.47" transform="rotate(-44.73 450.29 256.84)" fill="#78ad40"/></g>
<g clip-path="url(#ve1)"><g clip-path="url(#ve0)"><ellipse cx="422.97" cy="245.39" rx="56.02" ry="26.93" transform="rotate(-44.27 422.97 245.39)" fill="#8fbb6a"/></g></g>
<g clip-path="url(#ve1)"><g clip-path="url(#ve0)"><ellipse cx="450.29" cy="256.84" rx="54.62" ry="28.47" transform="rotate(-44.73 450.29 256.84)" fill="#de9a86"/></g></g>
<g clip-path="url(#ve2)"><g clip-path="url(#ve0)"><ellipse cx="450.29" cy="256.84" rx="54.62" ry="28.47" transform="rotate(-44.73 450.29 256.84)" fill="#c09478"/></g></g>
<g clip-path="url(#ve2)"><g clip-path="url(#ve1)"><ellipse cx="450.29" cy="256.84" rx="54.62" ry="28.47" transform="rotate(-44.73 450.29 256.84)" fill="#c6a64e"/></g></g>
<g clip-path="url(#ve2)"><g clip-path="url(#ve1)"><g clip-path="url(#ve0)"><ellipse cx="450.29" cy="256.84" rx="54.62" ry="28.47" transform="rotate(-44.73 450.29 256.84)" fill="#a6a28a"/></g></g></g>
<ellipse cx="391.31" cy="256.84" rx="54.62" ry="28.47" transform="rotate(44.73 391.31 256.84)" fill="none" stroke="#151515" stroke-width="1.1"/>
<ellipse cx="418.63" cy="245.39" rx="56.02" ry="26.93" transform="rotate(44.27 418.63 245.39)" fill="none" stroke="#151515" stroke-width="1.1"/>
<ellipse cx="422.97" cy="245.39" rx="56.02" ry="26.93" transform="rotate(-44.27 422.97 245.39)" fill="none" stroke="#151515" stroke-width="1.1"/>
<ellipse cx="450.29" cy="256.84" rx="54.62" ry="28.47" transform="rotate(-44.73 450.29 256.84)" fill="none" stroke="#151515" stroke-width="1.1"/>
<text x="398.00" y="213.90" font-size="7.2" text-anchor="middle" fill="#3a3a1a" font-weight="bold" >326</text>
<text x="442.50" y="213.90" font-size="7.2" text-anchor="middle" fill="#3a3a1a" font-weight="bold" >41</text>
<text x="386.00" y="231.30" font-size="7.2" text-anchor="middle" fill="#f2f0e4" >0</text>
<text x="421.00" y="230.10" font-size="7.2" text-anchor="middle" fill="#3a3a1a" font-weight="bold" >0</text>
<text x="454.60" y="231.30" font-size="7.2" text-anchor="middle" fill="#f2f0e4" >11</text>
<text x="369.80" y="253.10" font-size="7.2" text-anchor="middle" fill="#f2f0e4" >388</text>
<text x="402.90" y="249.10" font-size="7.2" text-anchor="middle" fill="#f2f0e4" >0</text>
<text x="436.40" y="249.10" font-size="7.2" text-anchor="middle" fill="#f2f0e4" >0</text>
<text x="470.70" y="253.10" font-size="7.2" text-anchor="middle" fill="#f2f0e4" >248</text>
<text x="420.80" y="270.70" font-size="7.2" text-anchor="middle" fill="#f2f0e4" >0</text>
<text x="392.50" y="276.00" font-size="7.2" text-anchor="middle" fill="#f2f0e4" >1</text>
<text x="447.60" y="275.50" font-size="7.2" text-anchor="middle" fill="#f2f0e4" >6</text>
<text x="410.00" y="282.50" font-size="7.2" text-anchor="middle" fill="#f2f0e4" >2</text>
<text x="429.70" y="282.50" font-size="7.2" text-anchor="middle" fill="#f2f0e4" >0</text>
<text x="420.90" y="294.70" font-size="7.2" text-anchor="middle" fill="#f2f0e4" >23</text>
<text x="354.90" y="198.50" font-size="6.8" text-anchor="start" fill="#96926c" textLength="63.1" lengthAdjust="spacingAndGlyphs" font-weight="bold">DOWNREGULATED</text>
<text x="322.30" y="209.60" font-size="6.8" text-anchor="start" fill="#5a4f98" textLength="51" lengthAdjust="spacingAndGlyphs" font-weight="bold">UPREGULATED</text>
<text x="445.80" y="198.50" font-size="6.9" text-anchor="start" fill="#7a8c64" textLength="57.3" lengthAdjust="spacingAndGlyphs" font-weight="bold">STAT5 (MEDIUM)</text>
<text x="467.70" y="209.50" font-size="6.9" text-anchor="start" fill="#9a4656" textLength="44.6" lengthAdjust="spacingAndGlyphs" font-weight="bold">STAT5 (+IL-7)</text>
<line x1="322.00" y1="294.30" x2="400.00" y2="294.30" stroke="#000" stroke-width="1.3"/>
<path d="M316.2 294.3 L325.2 290.9 L323.0 294.3 L325.2 297.7 Z" fill="#000"/>
<line x1="450.80" y1="282.80" x2="450.80" y2="330.00" stroke="#000" stroke-width="1.3"/>
<path d="M450.8 336.0 L447.2 327.8 L450.8 330.0 L454.4 327.8 Z" fill="#000"/>
<text x="10.40" y="465.40" font-size="12.3" text-anchor="start" fill="#111" font-weight="bold" stroke="#111" stroke-width="0.35">E</text>
<text x="95.30" y="478.30" font-size="8.3" text-anchor="middle" fill="#222" font-style="italic" >HRH2</text>
<rect x="60.25" y="564.19" width="19.50" height="2.02" fill="#2e5487" />
<line x1="70.00" y1="563.58" x2="70.00" y2="564.19" stroke="#111" stroke-width="1.1"/>
<line x1="65.40" y1="563.58" x2="74.60" y2="563.58" stroke="#111" stroke-width="1.2"/>
<line x1="70.00" y1="566.20" x2="70.00" y2="568.80" stroke="#000" stroke-width="1.3"/>
<rect x="86.55" y="512.60" width="19.50" height="53.60" fill="#a8002c" />
<line x1="96.30" y1="504.34" x2="96.30" y2="512.60" stroke="#111" stroke-width="1.1"/>
<line x1="91.70" y1="504.34" x2="100.90" y2="504.34" stroke="#111" stroke-width="1.2"/>
<line x1="96.30" y1="566.20" x2="96.30" y2="568.80" stroke="#000" stroke-width="1.3"/>
<rect x="113.35" y="528.12" width="19.50" height="38.08" fill="#55246a" />
<line x1="123.10" y1="523.28" x2="123.10" y2="528.12" stroke="#111" stroke-width="1.1"/>
<line x1="118.50" y1="523.28" x2="127.70" y2="523.28" stroke="#111" stroke-width="1.2"/>
<line x1="123.10" y1="566.20" x2="123.10" y2="568.80" stroke="#000" stroke-width="1.3"/>
<line x1="57.00" y1="482.80" x2="57.00" y2="566.90" stroke="#000" stroke-width="1.5"/>
<line x1="56.30" y1="566.20" x2="135.70" y2="566.20" stroke="#000" stroke-width="1.5"/>
<line x1="54.00" y1="566.20" x2="57.00" y2="566.20" stroke="#000" stroke-width="1.3"/>
<text x="50.40" y="569.10" font-size="8.3" text-anchor="end" fill="#2a2a2a" >0</text>
<line x1="54.00" y1="546.05" x2="57.00" y2="546.05" stroke="#000" stroke-width="1.3"/>
<text x="50.40" y="548.95" font-size="8.3" text-anchor="end" fill="#2a2a2a" >10</text>
<line x1="54.00" y1="525.90" x2="57.00" y2="525.90" stroke="#000" stroke-width="1.3"/>
<text x="50.40" y="528.80" font-size="8.3" text-anchor="end" fill="#2a2a2a" >20</text>
<line x1="54.00" y1="505.75" x2="57.00" y2="505.75" stroke="#000" stroke-width="1.3"/>
<text x="50.40" y="508.65" font-size="8.3" text-anchor="end" fill="#2a2a2a" >30</text>
<line x1="54.00" y1="485.60" x2="57.00" y2="485.60" stroke="#000" stroke-width="1.3"/>
<text x="50.40" y="488.50" font-size="8.3" text-anchor="end" fill="#2a2a2a" >40</text>
<text x="70.00" y="579.80" font-size="8.5" text-anchor="middle" fill="#2a2a2a" >Med.</text>
<text x="96.30" y="579.80" font-size="8.5" text-anchor="middle" fill="#2a2a2a" >IL-7</text>
<text x="123.10" y="579.80" font-size="8.5" text-anchor="middle" fill="#2a2a2a" >IL-7</text>
<text x="123.10" y="590.40" font-size="8.5" text-anchor="middle" fill="#2a2a2a" >+S5i</text>
<text x="217.30" y="478.30" font-size="8.3" text-anchor="middle" fill="#222" font-style="italic" >CISH</text>
<rect x="181.75" y="562.17" width="19.50" height="4.03" fill="#2e5487" />
<line x1="191.50" y1="561.57" x2="191.50" y2="562.17" stroke="#111" stroke-width="1.1"/>
<line x1="186.90" y1="561.57" x2="196.10" y2="561.57" stroke="#111" stroke-width="1.2"/>
<line x1="191.50" y1="566.20" x2="191.50" y2="568.80" stroke="#000" stroke-width="1.3"/>
<rect x="208.30" y="494.06" width="19.50" height="72.14" fill="#a8002c" />
<line x1="218.05" y1="489.63" x2="218.05" y2="494.06" stroke="#111" stroke-width="1.1"/>
<line x1="213.45" y1="489.63" x2="222.65" y2="489.63" stroke="#111" stroke-width="1.2"/>
<line x1="218.05" y1="566.20" x2="218.05" y2="568.80" stroke="#000" stroke-width="1.3"/>
<rect x="234.95" y="516.63" width="19.50" height="49.57" fill="#55246a" />
<line x1="244.70" y1="512.60" x2="244.70" y2="516.63" stroke="#111" stroke-width="1.1"/>
<line x1="240.10" y1="512.60" x2="249.30" y2="512.60" stroke="#111" stroke-width="1.2"/>
<line x1="244.70" y1="566.20" x2="244.70" y2="568.80" stroke="#000" stroke-width="1.3"/>
<line x1="178.30" y1="482.80" x2="178.30" y2="566.90" stroke="#000" stroke-width="1.5"/>
<line x1="177.60" y1="566.20" x2="257.30" y2="566.20" stroke="#000" stroke-width="1.5"/>
<line x1="175.30" y1="566.20" x2="178.30" y2="566.20" stroke="#000" stroke-width="1.3"/>
<text x="171.70" y="569.10" font-size="8.3" text-anchor="end" fill="#2a2a2a" >0</text>
<line x1="175.30" y1="546.05" x2="178.30" y2="546.05" stroke="#000" stroke-width="1.3"/>
<text x="171.70" y="548.95" font-size="8.3" text-anchor="end" fill="#2a2a2a" >5</text>
<line x1="175.30" y1="525.90" x2="178.30" y2="525.90" stroke="#000" stroke-width="1.3"/>
<text x="171.70" y="528.80" font-size="8.3" text-anchor="end" fill="#2a2a2a" >10</text>
<line x1="175.30" y1="505.75" x2="178.30" y2="505.75" stroke="#000" stroke-width="1.3"/>
<text x="171.70" y="508.65" font-size="8.3" text-anchor="end" fill="#2a2a2a" >15</text>
<line x1="175.30" y1="485.60" x2="178.30" y2="485.60" stroke="#000" stroke-width="1.3"/>
<text x="171.70" y="488.50" font-size="8.3" text-anchor="end" fill="#2a2a2a" >20</text>
<text x="191.50" y="579.80" font-size="8.5" text-anchor="middle" fill="#2a2a2a" >Med.</text>
<text x="218.05" y="579.80" font-size="8.5" text-anchor="middle" fill="#2a2a2a" >IL-7</text>
<text x="244.70" y="579.80" font-size="8.5" text-anchor="middle" fill="#2a2a2a" >IL-7</text>
<text x="244.70" y="590.40" font-size="8.5" text-anchor="middle" fill="#2a2a2a" >+S5i</text>
<text x="335.40" y="478.30" font-size="8.3" text-anchor="middle" fill="#222" font-style="italic" >OSM</text>
<rect x="301.70" y="558.10" width="19.50" height="8.51" fill="#2e5487" />
<line x1="311.45" y1="557.28" x2="311.45" y2="558.10" stroke="#111" stroke-width="1.1"/>
<line x1="306.85" y1="557.28" x2="316.05" y2="557.28" stroke="#111" stroke-width="1.2"/>
<line x1="311.45" y1="566.60" x2="311.45" y2="569.20" stroke="#000" stroke-width="1.3"/>
<rect x="329.20" y="504.23" width="19.50" height="62.37" fill="#a8002c" />
<line x1="338.95" y1="496.13" x2="338.95" y2="504.23" stroke="#111" stroke-width="1.1"/>
<line x1="334.35" y1="496.13" x2="343.55" y2="496.13" stroke="#111" stroke-width="1.2"/>
<line x1="338.95" y1="566.60" x2="338.95" y2="569.20" stroke="#000" stroke-width="1.3"/>
<rect x="356.85" y="542.30" width="19.50" height="24.30" fill="#55246a" />
<line x1="366.60" y1="539.06" x2="366.60" y2="542.30" stroke="#111" stroke-width="1.1"/>
<line x1="362.00" y1="539.06" x2="371.20" y2="539.06" stroke="#111" stroke-width="1.2"/>
<line x1="366.60" y1="566.60" x2="366.60" y2="569.20" stroke="#000" stroke-width="1.3"/>
<line x1="297.80" y1="482.80" x2="297.80" y2="567.30" stroke="#000" stroke-width="1.5"/>
<line x1="297.10" y1="566.60" x2="379.20" y2="566.60" stroke="#000" stroke-width="1.5"/>
<line x1="294.80" y1="566.60" x2="297.80" y2="566.60" stroke="#000" stroke-width="1.3"/>
<text x="291.20" y="569.50" font-size="8.3" text-anchor="end" fill="#2a2a2a" >0</text>
<line x1="294.80" y1="550.40" x2="297.80" y2="550.40" stroke="#000" stroke-width="1.3"/>
<text x="291.20" y="553.30" font-size="8.3" text-anchor="end" fill="#2a2a2a" >2</text>
<line x1="294.80" y1="534.20" x2="297.80" y2="534.20" stroke="#000" stroke-width="1.3"/>
<text x="291.20" y="537.10" font-size="8.3" text-anchor="end" fill="#2a2a2a" >4</text>
<line x1="294.80" y1="518.00" x2="297.80" y2="518.00" stroke="#000" stroke-width="1.3"/>
<text x="291.20" y="520.90" font-size="8.3" text-anchor="end" fill="#2a2a2a" >6</text>
<line x1="294.80" y1="501.80" x2="297.80" y2="501.80" stroke="#000" stroke-width="1.3"/>
<text x="291.20" y="504.70" font-size="8.3" text-anchor="end" fill="#2a2a2a" >8</text>
<line x1="294.80" y1="485.60" x2="297.80" y2="485.60" stroke="#000" stroke-width="1.3"/>
<text x="291.20" y="488.50" font-size="8.3" text-anchor="end" fill="#2a2a2a" >10</text>
<text x="311.45" y="580.20" font-size="8.5" text-anchor="middle" fill="#2a2a2a" >Med.</text>
<text x="338.95" y="580.20" font-size="8.5" text-anchor="middle" fill="#2a2a2a" >IL-7</text>
<text x="366.60" y="580.20" font-size="8.5" text-anchor="middle" fill="#2a2a2a" >IL-7</text>
<text x="366.60" y="590.80" font-size="8.5" text-anchor="middle" fill="#2a2a2a" >+S5i</text>
<text x="95.20" y="615.70" font-size="8.3" text-anchor="middle" fill="#222" font-style="italic" >PIM1</text>
<rect x="60.75" y="692.92" width="19.50" height="13.98" fill="#2e5487" />
<line x1="70.50" y1="692.22" x2="70.50" y2="692.92" stroke="#111" stroke-width="1.1"/>
<line x1="65.90" y1="692.22" x2="75.10" y2="692.22" stroke="#111" stroke-width="1.2"/>
<line x1="70.50" y1="706.90" x2="70.50" y2="709.50" stroke="#000" stroke-width="1.3"/>
<rect x="88.35" y="643.28" width="19.50" height="63.62" fill="#a8002c" />
<line x1="98.10" y1="637.68" x2="98.10" y2="643.28" stroke="#111" stroke-width="1.1"/>
<line x1="93.50" y1="637.68" x2="102.70" y2="637.68" stroke="#111" stroke-width="1.2"/>
<line x1="98.10" y1="706.90" x2="98.10" y2="709.50" stroke="#000" stroke-width="1.3"/>
<rect x="114.75" y="674.04" width="19.50" height="32.86" fill="#55246a" />
<line x1="124.50" y1="670.54" x2="124.50" y2="674.04" stroke="#111" stroke-width="1.1"/>
<line x1="119.90" y1="670.54" x2="129.10" y2="670.54" stroke="#111" stroke-width="1.2"/>
<line x1="124.50" y1="706.90" x2="124.50" y2="709.50" stroke="#000" stroke-width="1.3"/>
<line x1="56.80" y1="620.20" x2="56.80" y2="707.60" stroke="#000" stroke-width="1.5"/>
<line x1="56.10" y1="706.90" x2="137.10" y2="706.90" stroke="#000" stroke-width="1.5"/>
<line x1="53.80" y1="706.90" x2="56.80" y2="706.90" stroke="#000" stroke-width="1.3"/>
<text x="50.20" y="709.80" font-size="8.3" text-anchor="end" fill="#2a2a2a" >0</text>
<line x1="53.80" y1="692.92" x2="56.80" y2="692.92" stroke="#000" stroke-width="1.3"/>
<text x="50.20" y="695.82" font-size="8.3" text-anchor="end" fill="#2a2a2a" >1</text>
<line x1="53.80" y1="678.93" x2="56.80" y2="678.93" stroke="#000" stroke-width="1.3"/>
<text x="50.20" y="681.83" font-size="8.3" text-anchor="end" fill="#2a2a2a" >2</text>
<line x1="53.80" y1="664.95" x2="56.80" y2="664.95" stroke="#000" stroke-width="1.3"/>
<text x="50.20" y="667.85" font-size="8.3" text-anchor="end" fill="#2a2a2a" >3</text>
<line x1="53.80" y1="650.97" x2="56.80" y2="650.97" stroke="#000" stroke-width="1.3"/>
<text x="50.20" y="653.87" font-size="8.3" text-anchor="end" fill="#2a2a2a" >4</text>
<line x1="53.80" y1="636.98" x2="56.80" y2="636.98" stroke="#000" stroke-width="1.3"/>
<text x="50.20" y="639.88" font-size="8.3" text-anchor="end" fill="#2a2a2a" >5</text>
<line x1="53.80" y1="623.00" x2="56.80" y2="623.00" stroke="#000" stroke-width="1.3"/>
<text x="50.20" y="625.90" font-size="8.3" text-anchor="end" fill="#2a2a2a" >6</text>
<text x="70.50" y="720.50" font-size="8.5" text-anchor="middle" fill="#2a2a2a" >Med.</text>
<text x="98.10" y="720.50" font-size="8.5" text-anchor="middle" fill="#2a2a2a" >IL-7</text>
<text x="124.50" y="720.50" font-size="8.5" text-anchor="middle" fill="#2a2a2a" >IL-7</text>
<text x="124.50" y="731.10" font-size="8.5" text-anchor="middle" fill="#2a2a2a" >+S5i</text>
<text x="217.80" y="615.70" font-size="8.3" text-anchor="middle" fill="#222" font-style="italic" >BCL6</text>
<rect x="181.75" y="673.34" width="19.50" height="33.56" fill="#2e5487" />
<line x1="191.50" y1="666.96" x2="191.50" y2="673.34" stroke="#111" stroke-width="1.1"/>
<line x1="186.90" y1="666.96" x2="196.10" y2="666.96" stroke="#111" stroke-width="1.2"/>
<line x1="191.50" y1="706.90" x2="191.50" y2="709.50" stroke="#000" stroke-width="1.3"/>
<rect x="209.20" y="689.45" width="19.50" height="17.45" fill="#a8002c" />
<line x1="218.95" y1="688.78" x2="218.95" y2="689.45" stroke="#111" stroke-width="1.1"/>
<line x1="214.35" y1="688.78" x2="223.55" y2="688.78" stroke="#111" stroke-width="1.2"/>
<line x1="218.95" y1="706.90" x2="218.95" y2="709.50" stroke="#000" stroke-width="1.3"/>
<rect x="235.85" y="633.74" width="19.50" height="73.16" fill="#55246a" />
<line x1="245.60" y1="629.71" x2="245.60" y2="633.74" stroke="#111" stroke-width="1.1"/>
<line x1="241.00" y1="629.71" x2="250.20" y2="629.71" stroke="#111" stroke-width="1.2"/>
<line x1="245.60" y1="706.90" x2="245.60" y2="709.50" stroke="#000" stroke-width="1.3"/>
<line x1="178.00" y1="620.20" x2="178.00" y2="707.60" stroke="#000" stroke-width="1.5"/>
<line x1="177.30" y1="706.90" x2="258.20" y2="706.90" stroke="#000" stroke-width="1.5"/>
<line x1="175.00" y1="706.90" x2="178.00" y2="706.90" stroke="#000" stroke-width="1.3"/>
<text x="171.40" y="709.80" font-size="8.3" text-anchor="end" fill="#2a2a2a" >0.0</text>
<line x1="175.00" y1="690.12" x2="178.00" y2="690.12" stroke="#000" stroke-width="1.3"/>
<text x="171.40" y="693.02" font-size="8.3" text-anchor="end" fill="#2a2a2a" >0.5</text>
<line x1="175.00" y1="673.34" x2="178.00" y2="673.34" stroke="#000" stroke-width="1.3"/>
<text x="171.40" y="676.24" font-size="8.3" text-anchor="end" fill="#2a2a2a" >1.0</text>
<line x1="175.00" y1="656.56" x2="178.00" y2="656.56" stroke="#000" stroke-width="1.3"/>
<text x="171.40" y="659.46" font-size="8.3" text-anchor="end" fill="#2a2a2a" >1.5</text>
<line x1="175.00" y1="639.78" x2="178.00" y2="639.78" stroke="#000" stroke-width="1.3"/>
<text x="171.40" y="642.68" font-size="8.3" text-anchor="end" fill="#2a2a2a" >2.0</text>
<line x1="175.00" y1="623.00" x2="178.00" y2="623.00" stroke="#000" stroke-width="1.3"/>
<text x="171.40" y="625.90" font-size="8.3" text-anchor="end" fill="#2a2a2a" >2.5</text>
<text x="191.50" y="720.50" font-size="8.5" text-anchor="middle" fill="#2a2a2a" >Med.</text>
<text x="218.95" y="720.50" font-size="8.5" text-anchor="middle" fill="#2a2a2a" >IL-7</text>
<text x="245.60" y="720.50" font-size="8.5" text-anchor="middle" fill="#2a2a2a" >IL-7</text>
<text x="245.60" y="731.10" font-size="8.5" text-anchor="middle" fill="#2a2a2a" >+S5i</text>
<text x="335.20" y="615.70" font-size="8.3" text-anchor="middle" fill="#222" font-style="italic" >IL10</text>
<rect x="301.75" y="685.92" width="19.50" height="20.97" fill="#2e5487" />
<line x1="311.50" y1="684.88" x2="311.50" y2="685.92" stroke="#111" stroke-width="1.1"/>
<line x1="306.90" y1="684.88" x2="316.10" y2="684.88" stroke="#111" stroke-width="1.2"/>
<line x1="311.50" y1="706.90" x2="311.50" y2="709.50" stroke="#000" stroke-width="1.3"/>
<rect x="329.25" y="700.19" width="19.50" height="6.71" fill="#a8002c" />
<line x1="339.00" y1="699.56" x2="339.00" y2="700.19" stroke="#111" stroke-width="1.1"/>
<line x1="334.40" y1="699.56" x2="343.60" y2="699.56" stroke="#111" stroke-width="1.2"/>
<line x1="339.00" y1="706.90" x2="339.00" y2="709.50" stroke="#000" stroke-width="1.3"/>
<rect x="356.85" y="633.91" width="19.50" height="72.99" fill="#55246a" />
<line x1="366.60" y1="621.32" x2="366.60" y2="633.91" stroke="#111" stroke-width="1.1"/>
<line x1="362.00" y1="621.32" x2="371.20" y2="621.32" stroke="#111" stroke-width="1.2"/>
<line x1="366.60" y1="706.90" x2="366.60" y2="709.50" stroke="#000" stroke-width="1.3"/>
<line x1="297.60" y1="620.20" x2="297.60" y2="707.60" stroke="#000" stroke-width="1.5"/>
<line x1="296.90" y1="706.90" x2="379.20" y2="706.90" stroke="#000" stroke-width="1.5"/>
<line x1="294.60" y1="706.90" x2="297.60" y2="706.90" stroke="#000" stroke-width="1.3"/>
<text x="291.00" y="709.80" font-size="8.3" text-anchor="end" fill="#2a2a2a" >0</text>
<line x1="294.60" y1="685.92" x2="297.60" y2="685.92" stroke="#000" stroke-width="1.3"/>
<text x="291.00" y="688.82" font-size="8.3" text-anchor="end" fill="#2a2a2a" >1</text>
<line x1="294.60" y1="664.95" x2="297.60" y2="664.95" stroke="#000" stroke-width="1.3"/>
<text x="291.00" y="667.85" font-size="8.3" text-anchor="end" fill="#2a2a2a" >2</text>
<line x1="294.60" y1="643.98" x2="297.60" y2="643.98" stroke="#000" stroke-width="1.3"/>
<text x="291.00" y="646.88" font-size="8.3" text-anchor="end" fill="#2a2a2a" >3</text>
<line x1="294.60" y1="623.00" x2="297.60" y2="623.00" stroke="#000" stroke-width="1.3"/>
<text x="291.00" y="625.90" font-size="8.3" text-anchor="end" fill="#2a2a2a" >4</text>
<text x="311.50" y="720.50" font-size="8.5" text-anchor="middle" fill="#2a2a2a" >Med.</text>
<text x="339.00" y="720.50" font-size="8.5" text-anchor="middle" fill="#2a2a2a" >IL-7</text>
<text x="366.60" y="720.50" font-size="8.5" text-anchor="middle" fill="#2a2a2a" >IL-7</text>
<text x="366.60" y="731.10" font-size="8.5" text-anchor="middle" fill="#2a2a2a" >+S5i</text>
<text x="34.60" y="524.00" font-size="10.6" text-anchor="middle" fill="#2a2a2a" textLength="37.7" lengthAdjust="spacingAndGlyphs" font-weight="bold" transform="rotate(-90 34.60 524.00)">Fold change</text>
<text x="39.50" y="663.80" font-size="10.6" text-anchor="middle" fill="#2a2a2a" textLength="38.2" lengthAdjust="spacingAndGlyphs" font-weight="bold" transform="rotate(-90 39.50 663.80)">Fold change</text>
<rect x="0" y="0" width="520" height="741" fill="none" stroke="#000" stroke-width="3.4"/>
</svg>
</body></html>
